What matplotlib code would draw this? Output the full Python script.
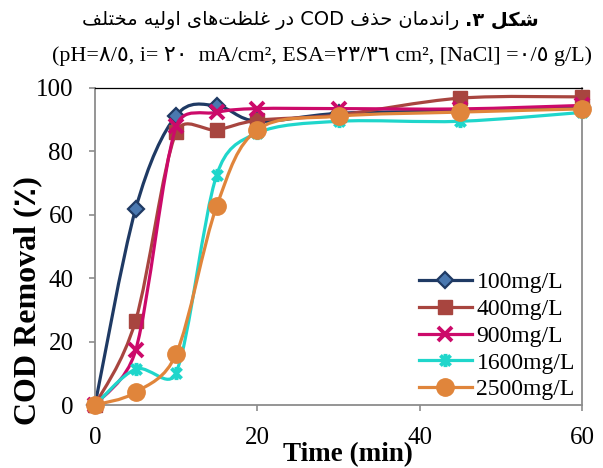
import matplotlib
matplotlib.use("Agg")
import matplotlib.pyplot as plt
import numpy as np
from matplotlib.path import Path
from matplotlib.patches import PathPatch
from matplotlib.lines import Line2D

# ---------------- data ----------------
time_min = [0, 5, 10, 15, 20, 30, 45, 60]
c100 = [0, 61.8, 91.3, 94.4, 89.5, 92.0, 92.8, 94.0]
c400 = [0, 26.6, 86.0, 86.8, 89.8, 91.5, 96.8, 97.2]
c900 = [0, 17.2, 87.9, 92.3, 93.5, 93.5, 93.4, 94.5]
c1600 = [0, 11.3, 10.2, 72.6, 85.8, 89.5, 89.5, 92.3]
c2500 = [0, 4.0, 16.1, 62.8, 86.8, 91.1, 92.4, 93.4]
hidden_x = [0]
hidden_y = [0]
labels = ["100mg/L", "400mg/L", "900mg/L", "1600mg/L", "2500mg/L"]
xticks = [0, 20, 40, 60]
yticks = [0, 20, 40, 60, 80, 100]

title_bold_logical = "شکل ۳."
title_words_logical = ["راندمان", "حذف", "COD", "در", "غلظت\u200cهای", "اولیه", "مختلف"]
subtitle = "(pH=٨/٥, i= ٢٠  mA/cm², ESA=٢٣/٣٦ cm², [NaCl] =٠/٥ g/L)"
ylabel = "COD Removal (٪)"
xlabel = "Time (min)"

# ---------------- Arabic shaping (presentation forms, visual order) -------------
DUAL = {
    'ت': (0xFE95, 0xFE96, 0xFE97, 0xFE98), 'ح': (0xFEA1, 0xFEA2, 0xFEA3, 0xFEA4),
    'خ': (0xFEA5, 0xFEA6, 0xFEA7, 0xFEA8), 'ش': (0xFEB5, 0xFEB6, 0xFEB7, 0xFEB8),
    'ظ': (0xFEC5, 0xFEC6, 0xFEC7, 0xFEC8), 'غ': (0xFECD, 0xFECE, 0xFECF, 0xFED0),
    'ف': (0xFED1, 0xFED2, 0xFED3, 0xFED4), 'ل': (0xFEDD, 0xFEDE, 0xFEDF, 0xFEE0),
    'م': (0xFEE1, 0xFEE2, 0xFEE3, 0xFEE4), 'ن': (0xFEE5, 0xFEE6, 0xFEE7, 0xFEE8),
    'ه': (0xFEE9, 0xFEEA, 0xFEEB, 0xFEEC), 'ی': (0xFBFC, 0xFBFD, 0xFBFE, 0xFBFF),
    'ک': (0xFB8E, 0xFB8F, 0xFB90, 0xFB91),
}
RIGHT = {'ا': (0xFE8D, 0xFE8E), 'د': (0xFEA9, 0xFEAA), 'ذ': (0xFEAB, 0xFEAC),
         'ر': (0xFEAD, 0xFEAE), 'و': (0xFEED, 0xFEEE)}


def shape_word(word):
    chars = list(word)
    out = []
    for i, c in enumerate(chars):
        if c not in DUAL and c not in RIGHT:
            if c == '\u200c':
                continue
            out.append(c)
            continue
        prev = chars[i - 1] if i > 0 else None
        nxt = chars[i + 1] if i + 1 < len(chars) else None
        jp = prev in DUAL
        if c in DUAL:
            f = DUAL[c]
            jn = (nxt in DUAL) or (nxt in RIGHT)
            g = f[3] if (jp and jn) else f[1] if jp else f[2] if jn else f[0]
        else:
            f = RIGHT[c]
            g = f[1] if jp else f[0]
        out.append(chr(g))
    return ''.join(reversed(out))


def is_arabic(w):
    return any(ch in DUAL or ch in RIGHT for ch in w)


def visual_line(words):
    vis = [shape_word(w) if is_arabic(w) else w for w in words]
    return ' '.join(reversed(vis))


title_regular_visual = visual_line(title_words_logical)
bold_word, bold_num = title_bold_logical.split(' ')
title_bold_visual = bold_num[::-1] + ' ' + shape_word(bold_word)

# ---------------- styles ----------------
serif = ['Liberation Serif', 'DejaVu Sans']
plt.rcParams['font.family'] = serif

star = Path([(-1, -1), (1, 1), (-1, 1), (1, -1), (0, -1.3), (0, 1.3)],
            [Path.MOVETO, Path.LINETO, Path.MOVETO, Path.LINETO, Path.MOVETO, Path.LINETO])

series = [
    dict(y=c100, color='#1F3A64', marker='D', ms=8.5, mfc='#4A78B0', mec='#1F3A64', mew=1.6),
    dict(y=c400, color='#A8453F', marker='s', ms=10.5, mfc='#A8453F', mec='#A8453F', mew=1),
    dict(y=c900, color='#CC0A6A', marker='x', ms=9.5, mfc='#CC0A6A', mec='#CC0A6A', mew=2.8),
    dict(y=c1600, color='#1FD6CB', marker=star, ms=9.5, mfc='#1FD6CB', mec='#1FD6CB', mew=2.8),
    dict(y=c2500, color='#E0853B', marker='o', ms=12.5, mfc='#E0853B', mec='#E0853B', mew=1),
]

fig = plt.figure(figsize=(6.03, 4.68), dpi=100)
ax = fig.add_axes([95 / 603, 1 - 405 / 468, (582 - 95) / 603, (405 - 88) / 468])
ax.set_xlim(0, 60)
ax.set_ylim(0, 100)

# screen scale (px per data unit) used for the spreadsheet-style smoothing rule
SX = 487.0 / 60.0
SY = 317.0 / 100.0


def smooth_path(x, y):
    pts = np.column_stack([x, y]).astype(float)
    scr = pts * np.array([SX, SY])
    n = len(pts)
    verts = [pts[0]]
    codes = [Path.MOVETO]
    for i in range(n - 1):
        i0 = i - 1 if i > 0 else i
        i3 = i + 2 if i + 2 < n else i + 1
        p0, p1, p2, p3 = pts[i0], pts[i], pts[i + 1], pts[i3]
        s0, s1, s2, s3 = scr[i0], scr[i], scr[i + 1], scr[i3]
        d02 = np.hypot(*(s2 - s0))
        d12 = np.hypot(*(s2 - s1))
        d13 = np.hypot(*(s3 - s1))
        f1 = 1.0 / 6.0
        f2 = 1.0 / 6.0
        if d02 / 6.0 >= d12 / 2.0 and d02 > 0:
            f1 = 0.5 * d12 / d02
        if d13 / 6.0 >= d12 / 2.0 and d13 > 0:
            f2 = 0.5 * d12 / d13
        c1 = p1 + (p2 - p0) * f1
        c2 = p2 - (p3 - p1) * f2
        verts += [c1, c2, p2]
        codes += [Path.CURVE4] * 3
    return Path(verts, codes)


ax.plot(hidden_x, hidden_y, linestyle='none', marker='^', ms=7, color='#8FB04C', zorder=1, clip_on=False)

handles = []
for k, s in enumerate(series):
    z = 2 + k
    patch = PathPatch(smooth_path(time_min, s['y']), facecolor='none', edgecolor=s['color'],
                      lw=2.3, zorder=z, capstyle='round', joinstyle='round')
    patch.set_clip_on(False)
    ax.add_patch(patch)
    ax.plot(time_min, s['y'], linestyle='none', marker=s['marker'], ms=s['ms'],
            mfc=s['mfc'], mec=s['mec'], mew=s['mew'], zorder=z + 0.5, clip_on=False)
    handles.append(Line2D([], [], color=s['color'], lw=2.3, marker=s['marker'], ms=s['ms'],
                          mfc=s['mfc'], mec=s['mec'], mew=s['mew']))

leg = ax.legend(handles, labels, loc='lower right', bbox_to_anchor=(0.995, 0.0),
                frameon=False, fontsize=17, handlelength=2.25, handletextpad=0.2,
                labelspacing=0.22, borderaxespad=0.0, borderpad=0.2)
leg.set_zorder(20)

# axes styling
for side in ['left', 'bottom', 'right']:
    ax.spines[side].set_color('#8C8C8C')
    ax.spines[side].set_linewidth(1.3)
ax.spines['top'].set_color('#000000')
ax.spines['top'].set_linewidth(0.9)
ax.set_xticks(xticks)
ax.set_yticks(yticks)
ax.tick_params(axis='both', direction='out', length=4.5, width=1.2, color='#8C8C8C',
               labelsize=18, labelcolor='black')
ax.tick_params(axis='x', pad=11)
ax.tick_params(axis='y', pad=11)
ax.tick_params(top=False, right=False)

ax.set_xlabel(xlabel, fontsize=19.5, fontweight='bold')
ax.xaxis.set_label_coords((348 - 95) / 487, -(461 - 405) / 317)
ax.xaxis.label.set_va('baseline')
ax.set_ylabel(ylabel, fontsize=23, fontweight='bold')
ax.yaxis.set_label_coords((28 - 95) / 487, (405 - 301) / 317)
ax.yaxis.label.set_va('center')

# subtitle
fig.text(322 / 603, 1 - 56 / 468, subtitle, ha='center', va='center', fontsize=15.8,
         family=serif)

# title: regular part + bold part, placed with measured widths
renderer = fig.canvas.get_renderer()
tsize = 14
t_reg = fig.text(0, 1 - 20 / 468, title_regular_visual, ha='left', va='center',
                 fontsize=tsize, family=['DejaVu Sans', 'Liberation Serif'])
t_bold = fig.text(0, 1 - 20 / 468, title_bold_visual, ha='left', va='center',
                  fontsize=tsize, fontweight='bold', family=['DejaVu Sans', 'Liberation Serif'])
w_reg = t_reg.get_window_extent(renderer).width
w_bold = t_bold.get_window_extent(renderer).width
gap = 6
total = w_reg + gap + w_bold
target = 460.0
scale = target / total
new_size = tsize * scale
t_reg.set_fontsize(new_size)
t_bold.set_fontsize(new_size)
w_reg = t_reg.get_window_extent(renderer).width
w_bold = t_bold.get_window_extent(renderer).width
total = w_reg + gap + w_bold
left_px = 310 - total / 2
t_reg.set_x(left_px / 603)
t_bold.set_x((left_px + w_reg + gap) / 603)

fig.savefig('out.png', dpi=100)
